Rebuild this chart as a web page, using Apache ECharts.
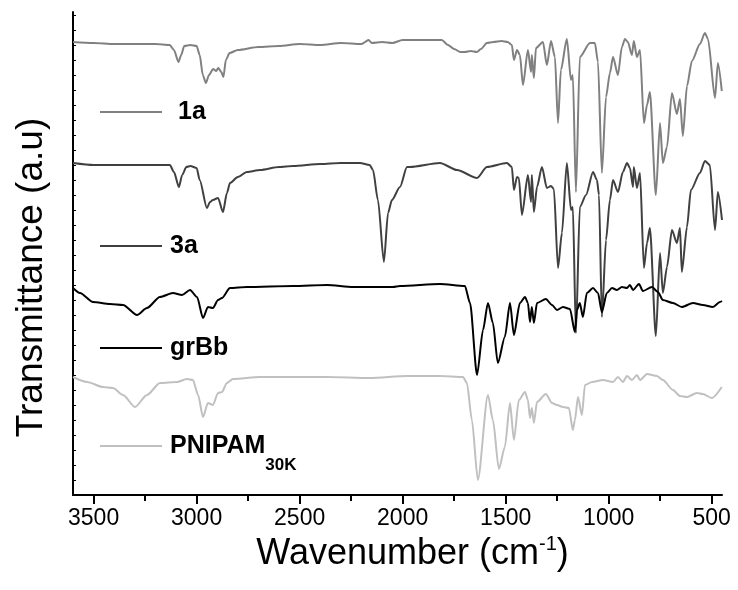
<!DOCTYPE html>
<html>
<head>
<meta charset="utf-8">
<script src="https://cdn.jsdelivr.net/npm/echarts@6/dist/echarts.min.js"></script>
<style>
html,body{margin:0;padding:0;background:#fff;}
#chart{width:738px;height:590px;}
</style>
</head>
<body>
<div id="chart"></div>
<script>
// ---- Data (wavenumber cm^-1, transmittance a.u., spectra stacked with offsets) ----
const seriesNames = ['1a', '3a', 'grBb', 'PNIPAM30K'];

const spec1a = [[3600,90.6],[3500,90.4],[3400,90.2],[3300,90.2],[3200,90.2],[3130,90],[3110,89],[3088,86.6],[3075,88],[3060,89.8],[3030,90],[3000,89.8],[2985,88],[2970,84],[2955,82.4],[2940,84],[2920,85.2],[2905,84.8],[2895,85.4],[2880,84.6],[2870,83.6],[2858,87],[2840,88.4],[2800,89],[2700,89.6],[2600,89.8],[2500,90.2],[2400,90],[2300,90.4],[2200,90.2],[2165,91],[2150,90.4],[2100,90.6],[2050,90.4],[2000,91],[1900,91],[1810,91],[1780,90],[1750,89.2],[1720,88.6],[1698,88.6],[1670,88.8],[1640,88.6],[1620,89.2],[1591,90.4],[1560,90.6],[1520,90.8],[1490,90.6],[1470,90],[1460,87],[1445,89],[1431,88],[1416,82],[1392,89],[1377,84.6],[1373,88],[1363,83.4],[1353,89.4],[1319,90.6],[1300,86],[1280,90.8],[1261,87.6],[1246,74.4],[1232,85],[1203,91.2],[1183,83],[1174,84],[1159,60.6],[1140,87.6],[1091,90.4],[1067,90.4],[1052,86.6],[1033,64.4],[1013,79.6],[994,84.4],[979,87.6],[955,84],[936,89.6],[921,91.2],[907,90.6],[887,88],[878,90.8],[863,87.6],[848,89],[829,74.4],[814,78],[800,80.6],[771,60],[751,74.4],[737,66.4],[717,69.6],[693,80.4],[669,76.2],[654,79.2],[640,71.8],[620,81.8],[596,86.8],[557,90.2],[533,92.4],[518,91.2],[484,79.4],[470,86.4],[451,80.8]];

const spec3a = [[3600,66.4],[3500,66],[3400,66],[3300,66],[3200,66],[3130,66],[3110,64.6],[3086,61.6],[3070,64],[3050,65.6],[3030,65.8],[3000,65.4],[2985,63],[2950,57.4],[2935,58.6],[2921,59],[2896,59.4],[2872,56.6],[2853,60.4],[2838,62.4],[2800,63.6],[2756,64.6],[2692,65],[2600,65.6],[2532,65.8],[2400,66.2],[2300,66.4],[2207,66.4],[2160,66],[2144,65],[2120,59],[2091,46.6],[2071,56.4],[2052,59],[2013,61.6],[1979,65.6],[1965,65.6],[1819,66.4],[1736,65],[1639,63.4],[1591,65.6],[1494,66.4],[1470,65.6],[1460,61],[1445,63.6],[1436,63.4],[1421,56],[1392,64],[1377,58.6],[1373,64],[1363,56.6],[1348,61.6],[1324,65.6],[1300,61.4],[1280,61.8],[1266,61.2],[1246,45.4],[1227,52.4],[1203,66.4],[1183,57],[1174,57.6],[1159,32.4],[1140,57.6],[1110,60],[1076,64.6],[1057,63],[1047,60],[1033,35.6],[1013,51],[994,59],[979,63],[955,60.6],[931,64.6],[911,66.4],[897,65.4],[882,61.6],[878,65.6],[863,61.4],[848,64.4],[829,45.4],[814,50.4],[800,53.4],[771,31.8],[751,48.4],[737,40.4],[717,45.6],[693,53],[669,50.4],[654,53.4],[645,44.6],[620,53.6],[601,61],[557,64.4],[533,66.8],[509,66],[484,53],[470,60.6],[450,55]];

const specGrBb = [[3600,41.4],[3566,40.4],[3503,38.6],[3420,38.2],[3357,38],[3289,36],[3241,37.4],[3178,39.6],[3115,40.4],[3071,40],[3032,41],[2998,39.6],[2969,35.4],[2945,37.6],[2921,37.4],[2896,39],[2877,39.4],[2838,41.4],[2756,41.6],[2532,41.8],[2367,42],[2241,41.6],[2047,41.6],[2013,41.8],[1819,42.2],[1698,41.8],[1673,38.4],[1639,24],[1610,33],[1586,38.4],[1562,34.4],[1538,26.4],[1504,31.6],[1479,38.4],[1460,32],[1431,38.4],[1406,39.6],[1392,38.4],[1382,34.6],[1373,37.6],[1363,34.4],[1348,38.4],[1305,39.2],[1275,38],[1251,37],[1222,37.6],[1188,37.2],[1164,32.6],[1154,37],[1140,38.4],[1125,35.6],[1106,40.4],[1076,41.4],[1052,40.4],[1033,36.6],[1009,40.4],[984,41.4],[960,41],[936,41.6],[911,41.4],[897,42],[882,41],[853,42.2],[834,40.8],[790,41.6],[761,40.6],[737,39],[688,38.4],[645,37.6],[591,38.4],[543,38],[494,37.6],[460,38.6],[450,38.8]];

const specPNIPAM = [[3600,23.6],[3532,22.6],[3454,21.6],[3406,21.4],[3357,20],[3299,17.6],[3241,20],[3178,22.4],[3095,22.6],[3047,23.2],[3018,23],[2993,20],[2969,15.6],[2945,18.4],[2921,18],[2896,20.4],[2877,20.6],[2853,22.4],[2824,23.2],[2692,23.6],[2367,23.6],[2159,23.4],[1979,23.8],[1819,23.8],[1707,23.6],[1688,22.4],[1664,15],[1635,3],[1586,20],[1562,15],[1533,5.2],[1504,9.6],[1479,18.4],[1460,11],[1436,19],[1406,20.6],[1392,19],[1382,15.4],[1373,17.4],[1363,14.4],[1348,18.6],[1305,20.2],[1275,18.4],[1251,18],[1222,17.6],[1193,17.4],[1174,13],[1164,15],[1149,19.6],[1130,16],[1115,22],[1081,22.6],[1028,23],[979,22.6],[955,23.6],[931,22.6],[911,23.8],[887,23],[863,24],[848,23],[814,24.2],[766,23.8],[737,23],[688,21],[654,19.8],[620,19.6],[572,20.4],[543,20.2],[499,19.4],[451,21.6]];

const xTickLabels = [500, 1000, 1500, 2000, 2500, 3000, 3500];
const xMinorTicks = [750, 1250, 1750, 2250, 2750, 3250];

// ---- Chart ----
const colors = ['#808080', '#404040', '#000000', '#c0c0c0'];
const specs = [spec1a, spec3a, specGrBb, specPNIPAM];
const yTicks = [];
for (let v = 0; v <= 96; v += 3) yTicks.push(v);

const FONT = 'Liberation Sans, Arial, sans-serif';

const legendTops = [99, 233, 335, 433];
const legendPad = [11, 3, 3, 3];

const chart = echarts.init(document.getElementById('chart'), null, {renderer: 'canvas'});
chart.setOption({
  backgroundColor: '#ffffff',
  animation: false,
  grid: {left: 73, right: 16, top: 12, bottom: 95, containLabel: false},
  xAxis: [{
    type: 'value', min: 450, max: 3600, inverse: true,
    axisLine: {show: true, lineStyle: {color: '#000', width: 2}},
    axisTick: {show: true, customValues: xTickLabels, length: 9, lineStyle: {color: '#000', width: 2}},
    axisLabel: {show: true, customValues: xTickLabels, formatter: v => String(v), fontSize: 23, color: '#000', fontFamily: FONT, margin: 12},
    splitLine: {show: false},
    name: '{a|Wavenumber (cm}{s|-1}{a|)}',
    nameLocation: 'middle', nameGap: 36,
    nameTextStyle: {padding: [0, 0, 0, 30], rich: {
      a: {fontSize: 36, fontFamily: FONT, color: '#000'},
      s: {fontSize: 20, fontFamily: FONT, color: '#000', padding: [0, 0, 18, 0]}
    }}
  }, {
    type: 'value', min: 450, max: 3600, inverse: true, position: 'bottom',
    axisLine: {show: false},
    axisTick: {show: true, customValues: xMinorTicks, length: 6, lineStyle: {color: '#000', width: 2}},
    axisLabel: {show: false},
    splitLine: {show: false}
  }],
  yAxis: {
    type: 'value', min: 0, max: 96.6,
    axisLine: {show: true, lineStyle: {color: '#000', width: 2}},
    axisTick: {show: true, inside: true, length: 3, customValues: yTicks, lineStyle: {color: '#000', width: 1}},
    axisLabel: {show: false},
    splitLine: {show: false},
    name: 'Transmittance (a.u)',
    nameLocation: 'middle', nameGap: 23,
    nameTextStyle: {fontSize: 37, fontFamily: FONT, color: '#000', padding: [0, 48, 0, 0]}
  },
  legend: seriesNames.map((n, i) => ({
    data: [n], left: 100, top: legendTops[i], padding: 0,
    icon: 'rect', itemWidth: 62, itemHeight: 2, selectedMode: false,
    formatter: name => name === 'PNIPAM30K' ? '{m|PNIPAM}{s|30K}' : name,
    textStyle: {
      fontSize: 25, fontWeight: 'bold', fontFamily: FONT, color: '#000', lineHeight: 26,
      padding: [0, 0, 0, legendPad[i]],
      rich: {
        m: {fontSize: 25, fontWeight: 'bold', fontFamily: FONT, color: '#000', lineHeight: 26},
        s: {fontSize: 17, fontWeight: 'bold', fontFamily: FONT, color: '#000', padding: [38, 0, 0, 0]}
      }
    }
  })),
  series: seriesNames.map((n, i) => ({
    name: n, type: 'line', data: specs[i], showSymbol: false, symbol: 'none',
    smooth: 0.25, smoothMonotone: 'x',
    lineStyle: {color: colors[i], width: 2}, itemStyle: {color: colors[i]},
    xAxisIndex: 0, yAxisIndex: 0, silent: true
  }))
});
</script>
</body>
</html>
